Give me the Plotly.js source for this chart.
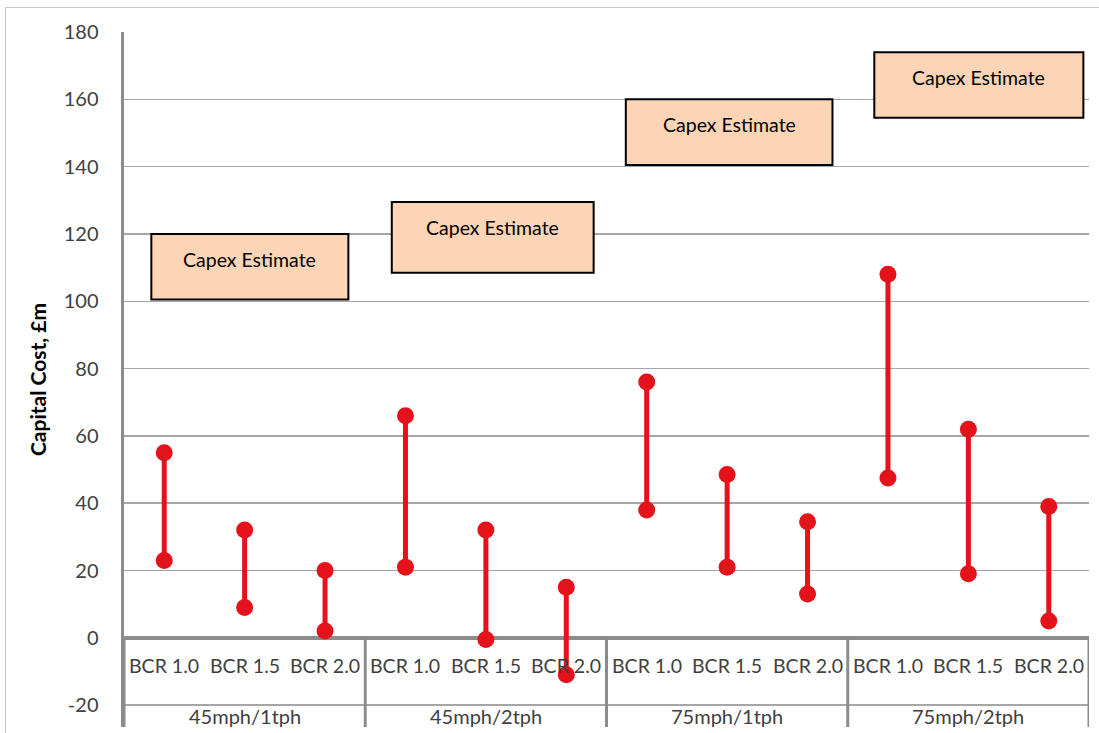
<!DOCTYPE html>
<html>
<head>
<meta charset="utf-8">
<script src="https://cdn.plot.ly/plotly-3.0.1.min.js"></script>
<style>
  html, body { margin: 0; padding: 0; background: #ffffff; }
  #frame { position: absolute; left: 5px; top: 7px; width: 1100px; height: 740px; border: 1px solid #c8c8c8; box-sizing: border-box; }
  #chart { position: absolute; left: 0; top: 0; width: 1099px; height: 733px; }
</style>
</head>
<body>
<div id="frame"></div>
<div id="chart"></div>
<script>
// ---- data ----
const groups = ['45mph/1tph', '45mph/2tph', '75mph/1tph', '75mph/2tph'];
const bcrLevels = ['BCR 1.0', 'BCR 1.5', 'BCR 2.0'];
const highCost = [55, 32, 20, 66, 32, 15, 76, 48.5, 34.5, 108, 62, 39];
const lowCost  = [23, 9, 2, 21, -0.5, -11, 38, 21, 13, 47.5, 19, 5];
const capexLabel = 'Capex Estimate';
const capexTop    = [120, 129.5, 160, 174];
const capexBottom = [100.5, 108.5, 140.5, 154.5];
const yTicks = [-20, 0, 20, 40, 60, 80, 100, 120, 140, 160, 180];
const yTickText = ['-20', '0', '20', '40', '60', '80', '100', '120', '140', '160', '180'];

// ---- build trace ----
const xg = [], xc = [], yv = [];
let k = 0;
groups.forEach(g => {
  bcrLevels.forEach(c => {
    xg.push(g, g, g); xc.push(c, c, c);
    yv.push(highCost[k], lowCost[k], null);
    k++;
  });
});

const red = '#E3121B';
const FONT = 'Lato, sans-serif';
const trace = {
  type: 'scatter',
  mode: 'lines+markers',
  x: [xg, xc],
  y: yv,
  connectgaps: false,
  line: { color: red, width: 5 },
  marker: { color: red, size: 17 },
  hoverinfo: 'y',
  showlegend: false
};

const yMin = yTicks[0], yMax = yTicks[yTicks.length - 1];
const axisGrey = '#8c8c8c';
const shapes = [], annotations = [];

// category-axis labels and dividers (drawn at y = 0 like the original)
let idx = 0;
groups.forEach((g, gi) => {
  bcrLevels.forEach(c => {
    annotations.push({
      xref: 'x', yref: 'y', x: idx, y: 0, yanchor: 'middle', yshift: -28,
      text: c, showarrow: false,
      font: { family: FONT, size: 19.5, color: '#404040' }
    });
    idx++;
  });
  annotations.push({
    xref: 'x', yref: 'y', x: gi * 3 + 1, y: yMin, yanchor: 'middle', yshift: -11,
    text: g, showarrow: false,
    font: { family: FONT, size: 20, color: '#404040' }
  });
});
for (let d = 0; d <= groups.length; d++) {
  shapes.push({
    type: 'line', xref: 'x', yref: 'y', x0: d * 3 - 0.5, x1: d * 3 - 0.5,
    y0: 0, y1: -26.5, line: { color: axisGrey, width: 3 }, layer: 'above'
  });
}

// capex boxes: positioned per group (category index units)
const boxX = [[-0.16, 2.29], [2.83, 5.34], [5.74, 8.31], [8.83, 11.43]];
groups.forEach((g, i) => {
  shapes.push({
    type: 'rect', xref: 'x', yref: 'y',
    x0: boxX[i][0], x1: boxX[i][1], y0: capexBottom[i], y1: capexTop[i],
    fillcolor: '#FBD5B5', line: { color: '#000000', width: 2 }, layer: 'above'
  });
  annotations.push({
    xref: 'x', yref: 'y', x: (boxX[i][0] + boxX[i][1]) / 2, y: capexTop[i],
    yanchor: 'top', yshift: -12, text: capexLabel, showarrow: false,
    font: { family: FONT, size: 19.5, color: '#000000' }
  });
});

const layout = {
  width: 1099, height: 733,
  margin: { l: 124, r: 10, t: 32, b: 6 },
  paper_bgcolor: 'rgba(0,0,0,0)',
  plot_bgcolor: 'rgba(0,0,0,0)',
  font: { family: FONT, size: 19, color: '#404040' },
  xaxis: {
    type: 'multicategory',
    showline: false, showgrid: false, ticks: '',
    showticklabels: false, showdividers: false,
    zeroline: false,
    range: [-0.5, 11.5]
  },
  yaxis: {
    range: [-26.5, yMax], tickmode: 'array', tickvals: yTicks, ticktext: yTickText,
    showgrid: true, gridcolor: '#a6a6a6', gridwidth: 1.5,
    zeroline: true, zerolinecolor: axisGrey, zerolinewidth: 3.5,
    showline: true, linecolor: axisGrey, linewidth: 3.5,
    ticks: 'outside', ticklen: 18, tickcolor: 'rgba(0,0,0,0)',
    tickfont: { family: FONT, size: 20, color: '#404040' },
    title: { text: 'Capital Cost, £m', font: { family: FONT, size: 21, color: '#000000', weight: 'bold' }, standoff: 12 }
  },
  shapes: shapes,
  annotations: annotations
};

Plotly.newPlot('chart', [trace], layout, { displayModeBar: false, staticPlot: true });
</script>
</body>
</html>
